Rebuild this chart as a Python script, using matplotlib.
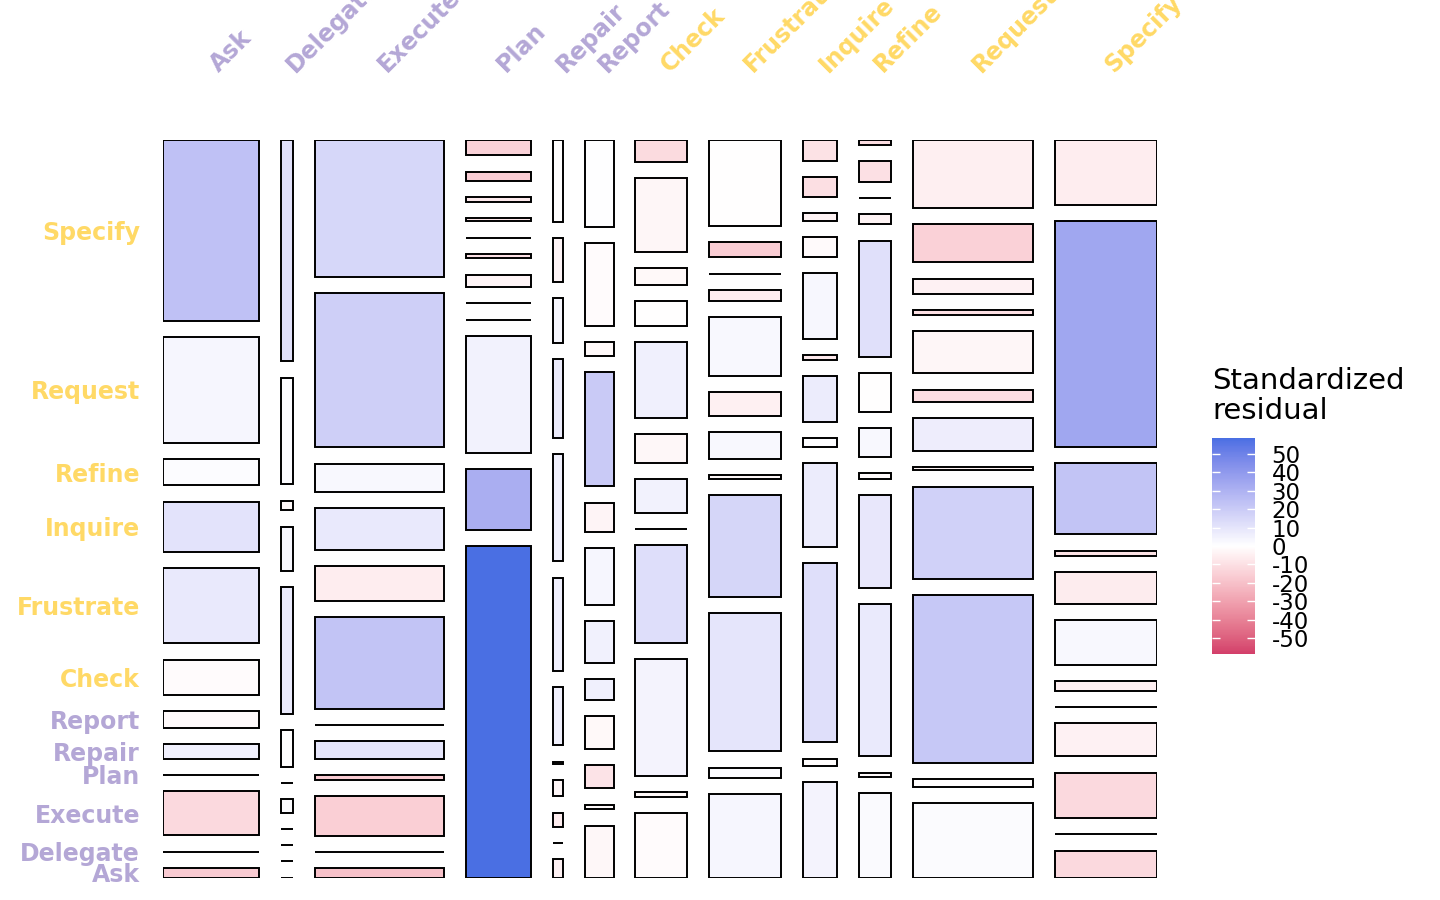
import numpy as np
import matplotlib
matplotlib.use("Agg")
import matplotlib.pyplot as plt
from matplotlib.patches import Rectangle
from matplotlib.colors import ListedColormap, Normalize, to_rgb
from matplotlib.cm import ScalarMappable
from matplotlib.transforms import ScaledTranslation

plt.rcParams['axes.unicode_minus'] = False

# categories (columns left->right, rows bottom->top use the same order)
states = ["Ask", "Delegate", "Execute", "Plan", "Repair", "Report",
          "Check", "Frustrate", "Inquire", "Refine", "Request", "Specify"]
purple = "#B4A7D6"
yellow = "#FFD966"
state_colors = [purple] * 6 + [yellow] * 6

# counts per column, in row order Ask ... Specify
ask_counts = [41, 0, 182, 0, 60, 70, 144, 312, 206, 108, 437, 744]
delegate_counts = [0, 0, 0, 0, 7, 0, 19, 65, 23, 5, 55, 114]
execute_counts = [53, 0, 221, 26, 96, 0, 506, 192, 233, 156, 854, 758]
plan_counts = [925, 168, 326, 1, 1, 34, 12, 1, 10, 12, 26, 43]
repair_counts = [8, 0, 6, 7, 1, 25, 40, 46, 34, 19, 19, 35]
report_counts = [65, 6, 29, 41, 26, 52, 70, 37, 142, 18, 103, 108]
check_counts = [144, 11, 260, 218, 0, 76, 64, 168, 56, 37, 166, 48]
frustrate_counts = [259, 31, 426, 314, 13, 83, 72, 182, 32, 2, 48, 264]
inquire_counts = [140, 10, 262, 122, 13, 67, 7, 96, 28, 12, 29, 30]
refine_counts = [116, 6, 209, 128, 7, 40, 53, 160, 14, 0, 28, 7]
request_counts = [385, 38, 865, 475, 17, 168, 64, 216, 25, 80, 197, 349]
specify_counts = [119, 2, 197, 144, 0, 44, 196, 139, 23, 311, 990, 283]

counts = np.array([ask_counts, delegate_counts, execute_counts, plan_counts,
                   repair_counts, report_counts, check_counts, frustrate_counts,
                   inquire_counts, refine_counts, request_counts, specify_counts],
                  dtype=float)

legend_ticks = [-50, -40, -30, -20, -10, 0, 10, 20, 30, 40, 50]

M_XYZ = np.array([[0.4124564, 0.3575761, 0.1804375],
                  [0.2126729, 0.7151522, 0.0721750],
                  [0.0193339, 0.1191920, 0.9503041]])
WHITE = np.array([0.95047, 1.0, 1.08883])


def srgb_to_lab(rgb):
    rgb = np.asarray(rgb, float)
    lin = np.where(rgb <= 0.04045, rgb / 12.92, ((rgb + 0.055) / 1.055) ** 2.4)
    xyz = M_XYZ @ lin / WHITE
    f = np.where(xyz > (6 / 29) ** 3, np.cbrt(xyz), xyz / (3 * (6 / 29) ** 2) + 4 / 29)
    return np.array([116 * f[1] - 16, 500 * (f[0] - f[1]), 200 * (f[1] - f[2])])


def lab_to_srgb(lab):
    L, a, b = lab
    fy = (L + 16) / 116
    f = np.array([fy + a / 500, fy, fy - b / 200])
    xyz = np.where(f > 6 / 29, f ** 3, 3 * (6 / 29) ** 2 * (f - 4 / 29)) * WHITE
    lin = np.clip(np.linalg.inv(M_XYZ) @ xyz, 0, 1)
    rgb = np.where(lin <= 0.0031308, 12.92 * lin, 1.055 * lin ** (1 / 2.4) - 0.055)
    return np.clip(rgb, 0, 1)


# diverging gradient interpolated in Lab, like ggplot's gradient2
low, mid, high = (srgb_to_lab(to_rgb(c)) for c in ("#D33F6A", "#FFFFFF", "#4A6FE3"))
ramp = []
for t in np.linspace(0, 1, 256):
    if t < 0.5:
        lab = low + (mid - low) * (t / 0.5)
    else:
        lab = mid + (high - mid) * ((t - 0.5) / 0.5)
    ramp.append(lab_to_srgb(lab))
cmap = ListedColormap(ramp)

# standardized residuals of the independence model
col_tot = counts.sum(axis=1)
row_tot = counts.sum(axis=0)
N = counts.sum()
expected = np.outer(col_tot, row_tot) / N
resid = (counts - expected) / np.sqrt(expected * (1 - col_tot[:, None] / N) * (1 - row_tot[None, :] / N))
lim = np.abs(resid).max()
norm = Normalize(-lim, lim)

fig = plt.figure(figsize=(14.4, 9), dpi=100)
ax = fig.add_axes([163 / 1440, 1 - 877.7 / 900, 994 / 1440, 737.7 / 900])

gap = 0.022
n = len(states)
widths = (1 - gap * (n - 1)) * col_tot / N
x0 = np.concatenate([[0], np.cumsum(widths + gap)[:-1]])

first_centers = None
for j in range(n):
    heights = (1 - gap * (n - 1)) * counts[j] / col_tot[j]
    y0 = np.concatenate([[0], np.cumsum(heights + gap)[:-1]])
    if j == 0:
        first_centers = y0 + heights / 2
    for i in range(n):
        ax.add_patch(Rectangle((x0[j], y0[i]), widths[j], heights[i],
                               facecolor=cmap(norm(resid[j, i])),
                               edgecolor='black', linewidth=1.4))

ax.set_xlim(0, 1)
ax.set_ylim(0, 1)
for s in ax.spines.values():
    s.set_visible(False)

ax.set_yticks(first_centers)
ax.set_yticklabels(states, fontsize=17, fontweight='bold')
ax.tick_params(axis='y', length=0, pad=16.5)
for lbl, c in zip(ax.get_yticklabels(), state_colors):
    lbl.set_color(c)

# column labels on top, rotated
ax.set_xticks([])
top_shift = ax.get_xaxis_transform() + ScaledTranslation(0.08, 0.67, fig.dpi_scale_trans)
for xc, name, c in zip(x0 + widths / 2, states, state_colors):
    ax.text(xc, 1, name, transform=top_shift, fontsize=17, fontweight='bold',
            color=c, rotation=45, ha='left', va='baseline',
            rotation_mode='anchor', clip_on=False)

# legend
cax = fig.add_axes([1212 / 1440, 1 - 654 / 900, 43 / 1440, 216 / 900])
cb = fig.colorbar(ScalarMappable(norm=norm, cmap=cmap), cax=cax, ticks=legend_ticks)
cb.outline.set_visible(False)
cb.minorticks_off()
cax.tick_params(which='major', direction='in', color='white', length=5.5, width=1,
                left=True, right=True, labelsize=16.5, pad=12)
fig.text(1212 / 1440, 1 - 425 / 900, "Standardized\nresidual", fontsize=21,
         ha='left', va='bottom', linespacing=1.07)

fig.savefig("out.png", dpi=100)
